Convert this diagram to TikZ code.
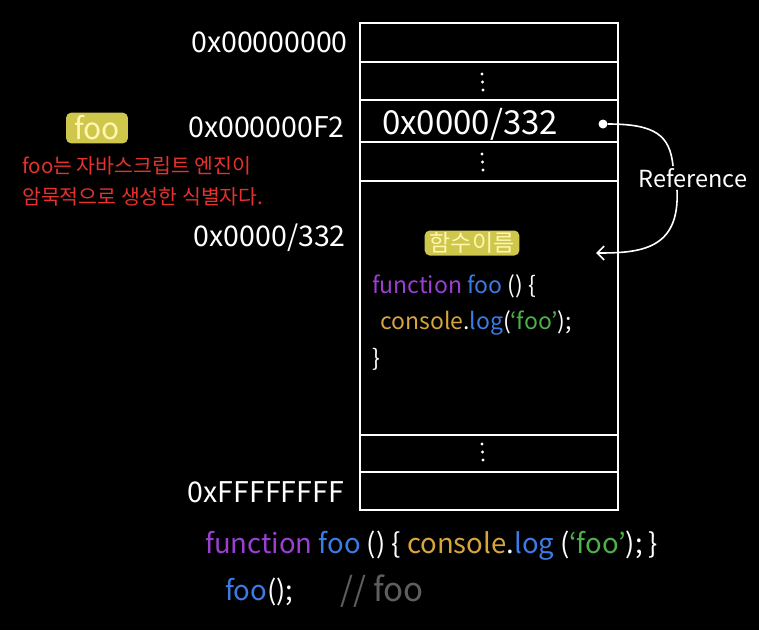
\documentclass[tikz,border=0pt]{standalone}
\usepackage{fontspec}
\setmainfont{Noto Sans CJK KR}
\usetikzlibrary{arrows.meta}
\definecolor{cpurple}{HTML}{9B3FD2}
\definecolor{cblue}{HTML}{3C7BE6}
\definecolor{cgold}{HTML}{D6A53C}
\definecolor{cgreen}{HTML}{4DB04A}
\definecolor{cred}{HTML}{E5322D}
\definecolor{cgray}{HTML}{5E5E5E}
\definecolor{hlfill}{HTML}{CFC64C}
\definecolor{hltext}{HTML}{FFF6B0}
\tikzset{
  mem/.style={draw=white, line width=2pt},
  addr/.style={text=white, font=\fontsize{28.5}{30}\selectfont, inner sep=0pt},
  ptrtext/.style={text=white, font=\fontsize{33}{36}\selectfont, inner sep=0pt},
  code/.style={text=white, font=\fontsize{23}{26}\selectfont, inner sep=0pt, anchor=base west},
  bigcode/.style={text=white, font=\fontsize{27.5}{30}\selectfont, inner sep=0pt, anchor=base west},
  redtext/.style={text=cred, font=\fontsize{20.5}{24}\selectfont, inner sep=0pt, anchor=base west},
  hl/.style={fill=hlfill, rounded corners=5pt, text=hltext, inner xsep=5pt, inner ysep=2pt},
  conn/.style={draw=white, line width=1.6pt},
  vdot/.style={circle, fill=white, inner sep=0pt, minimum size=3.2pt}
}
\begin{document}
\begin{tikzpicture}[x=1pt,y=-1pt]
\fill[black] (0,0) rectangle (759,630);
\useasboundingbox (0,0) rectangle (759,630);

% memory box
\draw[mem] (360,23) rectangle (618,510);
\foreach \yy in {62,100,142,181,435,472}{\draw[mem] (360,\yy) -- (618,\yy);}

% vertical ellipses
\foreach \cy in {82,162,452}{
  \node[vdot] at (482,\cy-8) {};
  \node[vdot] at (482.5,\cy) {};
  \node[vdot] at (483,\cy+8) {};
}

% address labels
\node[addr, anchor=east] (a0) at (348,42) {0x00000000};
\node[addr, anchor=east] (a1) at (345,127) {0x000000F2};
\node[addr, anchor=east] (a2) at (346,238) {0x0000/332};
\node[addr, anchor=east] (a3) at (344,492) {0xFFFFFFFF};

% pointer cell
\node[ptrtext, anchor=west] (ptr) at (382,124) {0x0000/332};
\node[circle, fill=white, inner sep=0pt, minimum size=9pt] (dot) at (603,124) {};

% reference
\node[text=white, font=\fontsize{23.5}{26}\selectfont, inner sep=2pt] (ref) at (693,178) {Reference};
\coordinate (tgt) at (596,253);
\draw[conn] (dot.east) .. controls (655,124) and (670,135) .. ([xshift=-20pt]ref.north);
\draw[conn, -{Straight Barb[length=7pt,width=14pt,line width=1.6pt]}] ([xshift=-16pt]ref.south) .. controls (680,250) and (640,253) .. (tgt);

% function in heap
\node[hl, font=\fontsize{23}{25}\selectfont] (fname) at (472,243) {함수이름};
\node[code] (l1) at (372,293) {\textcolor{cpurple}{function} \textcolor{cblue}{foo} () \{};
\node[code] (l2) at (380,329) {\textcolor{cgold}{console}.\textcolor{cblue}{log}(\textcolor{cgreen}{`foo'});};
\node[code] (l3) at (372,366) {\}};

% left annotation
\node[hl, font=\fontsize{30}{32}\selectfont, inner xsep=8pt, inner ysep=3pt] (foo) at (97,128) {foo};
\node[redtext] (r1) at (22,173) {foo는 자바스크립트 엔진이};
\node[redtext] (r2) at (22,204) {암묵적으로 생성한 식별자다.};

% bottom code
\node[bigcode] (b1) at (205,553) {\textcolor{cpurple}{function} \textcolor{cblue}{foo} () \{ \textcolor{cgold}{console}.\textcolor{cblue}{log} (\textcolor{cgreen}{`foo'}); \}};
\node[bigcode] (b2) at (225,600) {\textcolor{cblue}{foo}();};
\node[bigcode, text=cgray, font=\fontsize{33}{36}\selectfont] (b3) at (340,601) {// foo};
\end{tikzpicture}
\end{document}
